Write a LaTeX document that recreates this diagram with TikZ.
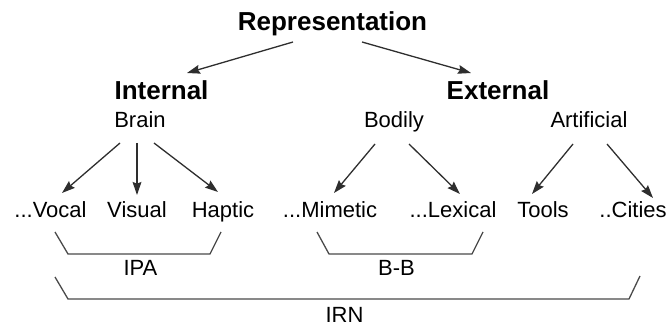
\documentclass[tikz,border=0pt]{standalone}
\usepackage{fontspec}
\setmainfont{Liberation Sans}
\usepackage{tikz}
\usetikzlibrary{arrows.meta}
\definecolor{linegray}{HTML}{2E2E2E}
\definecolor{brackgray}{HTML}{4A4A4A}

\begin{document}
\begin{tikzpicture}[x=0.5pt, y=-0.5pt,
  every node/.style={anchor=base, inner sep=0pt},
  head/.style={font=\fontsize{13}{15}\selectfont\bfseries},
  leaf/.style={font=\fontsize{11}{13}\selectfont},
  arr/.style={draw=linegray, line width=0.65pt, -{Stealth[length=6.5pt,width=4.4pt,inset=0.8pt]}},
  brack/.style={draw=brackgray, line width=0.65pt}]
\useasboundingbox (0,0) rectangle (670,326);

\node[head] (rep) at (332.5,31) {Representation};
\node[head] (intl) at (161.5,100) {Internal};
\node[head] (extl) at (498,100) {External};
\node[leaf] (brain) at (140,128) {Brain};
\node[leaf] (bodily) at (394,128) {Bodily};
\node[leaf] (artif) at (589,128) {Artificial};

\node[leaf] (vocal) at (50.5,218) {...Vocal};
\node[leaf] (visual) at (137,218) {Visual};
\node[leaf] (haptic) at (223,218) {Haptic};
\node[leaf] (mimetic) at (330,218) {...Mimetic};
\node[leaf] (lexical) at (453,218) {...Lexical};
\node[leaf] (tools) at (543,218) {Tools};
\node[leaf] (cities) at (633,218) {..Cities};

\node[leaf] (ipa) at (140.5,276) {IPA};
\node[leaf] (bb) at (396.5,276) {B-B};
\node[leaf] (irn) at (344.5,322) {IRN};

% top level
\draw[arr] ([shift={(-39.5,11)}]rep.base) -- ([shift={(25.5,-27)}]intl.base);
\draw[arr] ([shift={(29.5,11)}]rep.base) -- ([shift={(-27,-27)}]extl.base);
% internal
\draw[arr] ([shift={(-20,15)}]brain.base) -- ([shift={(11.5,-25)}]vocal.base);
\draw[arr] ([shift={(-3,15)}]brain.base) -- ([shift={(0,-23)}]visual.base);
\draw[arr] ([shift={(14,15)}]brain.base) -- ([shift={(-5,-26)}]haptic.base);
% external
\draw[arr] ([shift={(-19,16)}]bodily.base) -- ([shift={(4,-25)}]mimetic.base);
\draw[arr] ([shift={(15,16)}]bodily.base) -- ([shift={(7,-24)}]lexical.base);
\draw[arr] ([shift={(-16,16)}]artif.base) -- ([shift={(-11,-24)}]tools.base);
\draw[arr] ([shift={(18,16)}]artif.base) -- ([shift={(20,-20)}]cities.base);

% brackets
\draw[brack] ([shift={(-85.5,-44)}]ipa.base) -- ++(13,22) -- ++(142,0) -- ++(11,-22);
\draw[brack] ([shift={(-79.5,-44)}]bb.base) -- ++(12,22) -- ++(143,0) -- ++(11,-22);
\draw[brack] ([shift={(-289.5,-45)}]irn.base) -- ++(13,22) -- ++(561,0) -- ++(11,-23);
\end{tikzpicture}
\end{document}
